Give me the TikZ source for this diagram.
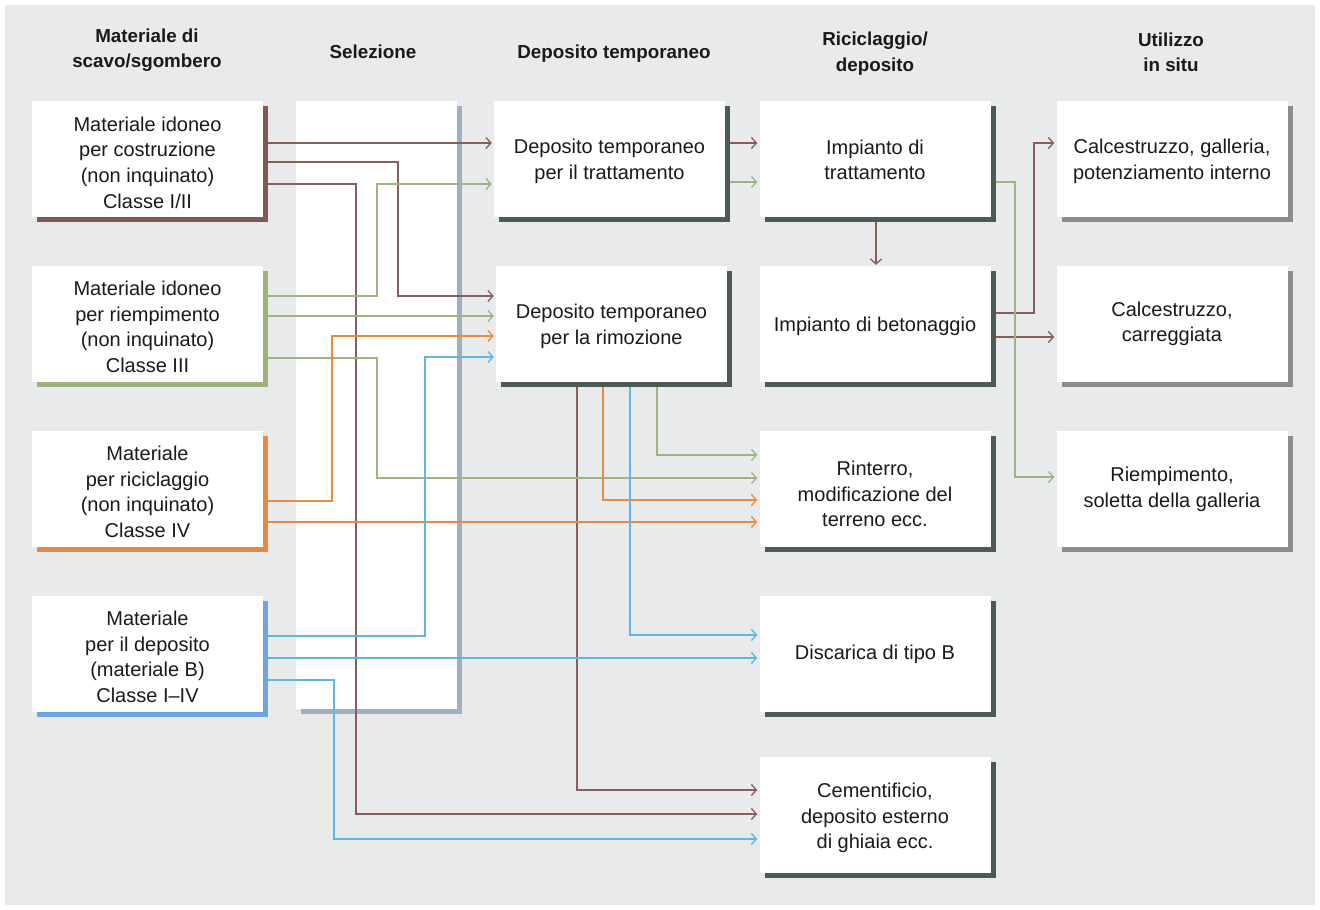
\documentclass[tikz,border=0pt]{standalone}
\usepackage{fontspec}
\setmainfont{Liberation Sans}
\usetikzlibrary{shadows,arrows.meta}
\definecolor{bg}{HTML}{E9EAEC}
\definecolor{txt}{HTML}{1A1A1A}
\definecolor{brbox}{HTML}{7F5A55}
\definecolor{grbox}{HTML}{9CB27A}
\definecolor{orbox}{HTML}{E38A44}
\definecolor{blbox}{HTML}{6EA4E2}
\definecolor{dksh}{HTML}{4E5A56}
\definecolor{gysh}{HTML}{8D8C88}
\definecolor{selsh}{HTML}{A0AFC2}
\definecolor{brl}{HTML}{875E5A}
\definecolor{grl}{HTML}{9DB67F}
\definecolor{orl}{HTML}{E98A3E}
\definecolor{bll}{HTML}{5EB5E6}
% box: name, position, shadow colour, text shift, text
\newcommand\flowbox[5]{%
  \node[box, sh=#3] (#1) at (#2) {};
  \node[btxt] (#1t) at ([yshift=#4]#1.center) {#5};}
\begin{document}
\begin{tikzpicture}[x=1pt,y=1pt,
  box/.style={fill=white, inner sep=0pt, minimum width=231pt, minimum height=116pt},
  btxt/.style={inner sep=0pt, align=center, text=txt, font=\fontsize{20}{25.6}\selectfont},
  sh/.style={general shadow={fill=#1, shadow xshift=5pt, shadow yshift=-5pt}},
  hdr/.style={align=center, text=txt, font=\bfseries\fontsize{18.8}{25.5}\selectfont},
  conn/.style={draw=#1, line width=1.3pt, -{Straight Barb[length=5pt,width=11pt]}},
  ]
\useasboundingbox (0,0) rectangle (1320,-910);
\fill[white] (0,0) rectangle (1320,-910);
\fill[bg] (5,-5) rectangle (1315,-905);

% headers
\node[hdr] (h1) at (147,-50) {Materiale di\\scavo/sgombero};
\node[hdr] (h2) at (373,-52) {Selezione};
\node[hdr] (h3) at (614,-54) {Deposito temporaneo};
\node[hdr] (h4) at (875,-53.5) {Riciclaggio/\\deposito};
\node[hdr] (h5) at (1171,-52.5) {Utilizzo\\in situ};

% selection column
\node[box, sh=selsh, minimum width=161pt, minimum height=608pt] (S) at (376.5,-405) {};

% column 1
\flowbox{A}{147.5,-159}{brbox}{-3.5pt}{Materiale idoneo\\per costruzione\\(non inquinato)\\Classe I/II}
\flowbox{B}{147.5,-324}{grbox}{-3pt}{Materiale idoneo\\per riempimento\\(non inquinato)\\Classe III}
\flowbox{C}{147.5,-489}{orbox}{-3pt}{Materiale\\per riciclaggio\\(non inquinato)\\Classe IV}
\flowbox{D}{147.5,-654}{blbox}{-3pt}{Materiale\\per il deposito\\(materiale B)\\Classe I–IV}

% column 3
\flowbox{E}{609.5,-159}{dksh}{-2.5pt}{Deposito temporaneo\\per il trattamento}
\flowbox{F}{611.5,-324}{dksh}{-2.5pt}{Deposito temporaneo\\per la rimozione}

% column 4
\flowbox{G}{875,-159}{dksh}{-1pt}{Impianto di\\trattamento}
\flowbox{H}{875,-324}{dksh}{-2pt}{Impianto di betonaggio}
\flowbox{I}{875,-489}{dksh}{-5pt}{Rinterro,\\modificazione del\\terreno ecc.}
\flowbox{J}{875,-654}{dksh}{0pt}{Discarica di tipo B}
\flowbox{K}{875,-815}{dksh}{-3pt}{Cementificio,\\deposito esterno\\di ghiaia ecc.}

% column 5
\flowbox{L}{1172,-159}{gysh}{-2.5pt}{Calcestruzzo, galleria,\\potenziamento interno}
\flowbox{M}{1172,-324}{gysh}{0pt}{Calcestruzzo,\\carreggiata}
\flowbox{N}{1172,-489}{gysh}{-0.5pt}{Riempimento,\\soletta della galleria}

% vertical routing columns
\coordinate (x332) at (332,0);
\coordinate (x334) at (334,0);
\coordinate (x356) at (356,0);
\coordinate (x377) at (377,0);
\coordinate (x398) at (398,0);
\coordinate (x425) at (425,0);
\coordinate (x1015) at (1015,0);
\coordinate (x1034) at (1034,0);

% targets
\coordinate (e143) at ([xshift=-2pt,yshift=16pt]E.west);
\coordinate (e184) at ([xshift=-2pt,yshift=-25pt]E.west);
\coordinate (f296) at ([xshift=-2pt,yshift=28pt]F.west);
\coordinate (f316) at ([xshift=-2pt,yshift=8pt]F.west);
\coordinate (f336) at ([xshift=-2pt,yshift=-12pt]F.west);
\coordinate (f357) at ([xshift=-2pt,yshift=-33pt]F.west);
\coordinate (g143) at ([xshift=-2pt,yshift=16pt]G.west);
\coordinate (g182) at ([xshift=-2pt,yshift=-23pt]G.west);
\coordinate (i455) at ([xshift=-2pt,yshift=34pt]I.west);
\coordinate (i478) at ([xshift=-2pt,yshift=11pt]I.west);
\coordinate (i500) at ([xshift=-2pt,yshift=-11pt]I.west);
\coordinate (i522) at ([xshift=-2pt,yshift=-33pt]I.west);
\coordinate (j635) at ([xshift=-2pt,yshift=19pt]J.west);
\coordinate (j658) at ([xshift=-2pt,yshift=-4pt]J.west);
\coordinate (k790) at ([xshift=-2pt,yshift=25pt]K.west);
\coordinate (k814) at ([xshift=-2pt,yshift=1pt]K.west);
\coordinate (k839) at ([xshift=-2pt,yshift=-24pt]K.west);
\coordinate (l143) at ([xshift=-2pt,yshift=16pt]L.west);
\coordinate (m337) at ([xshift=-2pt,yshift=-13pt]M.west);
\coordinate (n477) at ([xshift=-2pt,yshift=12pt]N.west);

% brown
\draw[conn=brl] ([xshift=5pt,yshift=16pt]A.east) -- (e143);
\draw[conn=brl] ([xshift=5pt,yshift=-3pt]A.east) -| (x398 |- f296) -- (f296);
\draw[conn=brl] ([xshift=5pt,yshift=-25pt]A.east) -| (x356 |- k814) -- (k814);
\draw[conn=brl] ([xshift=5pt,yshift=16pt]E.east) -- (g143);
\draw[conn=brl] ([xshift=1pt,yshift=-5pt]G.south) -- ([xshift=1pt,yshift=1pt]H.north);
\draw[conn=brl] ([xshift=5pt,yshift=11pt]H.east) -| (x1034 |- l143) -- (l143);
\draw[conn=brl] ([xshift=5pt,yshift=-13pt]H.east) -- (m337);
\draw[conn=brl] ([xshift=-34.5pt,yshift=-5pt]F.south) |- (k790);

% green
\draw[conn=grl] ([xshift=5pt,yshift=28pt]B.east) -| (x377 |- e184) -- (e184);
\draw[conn=grl] ([xshift=5pt,yshift=8pt]B.east) -- (f316);
\draw[conn=grl] ([xshift=5pt,yshift=-34pt]B.east) -| (x377 |- i478) -- (i478);
\draw[conn=grl] ([xshift=5pt,yshift=-23pt]E.east) -- (g182);
\draw[conn=grl] ([xshift=5pt,yshift=-23pt]G.east) -| (x1015 |- n477) -- (n477);
\draw[conn=grl] ([xshift=45.5pt,yshift=-5pt]F.south) |- (i455);

% orange
\draw[conn=orl] ([xshift=5pt,yshift=-12pt]C.east) -| (x332 |- f336) -- (f336);
\draw[conn=orl] ([xshift=5pt,yshift=-33pt]C.east) -- (i522);
\draw[conn=orl] ([xshift=-8.5pt,yshift=-5pt]F.south) |- (i500);

% blue
\draw[conn=bll] ([xshift=5pt,yshift=18pt]D.east) -| (x425 |- f357) -- (f357);
\draw[conn=bll] ([xshift=5pt,yshift=-4pt]D.east) -- (j658);
\draw[conn=bll] ([xshift=5pt,yshift=-26pt]D.east) -| (x334 |- k839) -- (k839);
\draw[conn=bll] ([xshift=18.5pt,yshift=-5pt]F.south) |- (j635);
\end{tikzpicture}
\end{document}
